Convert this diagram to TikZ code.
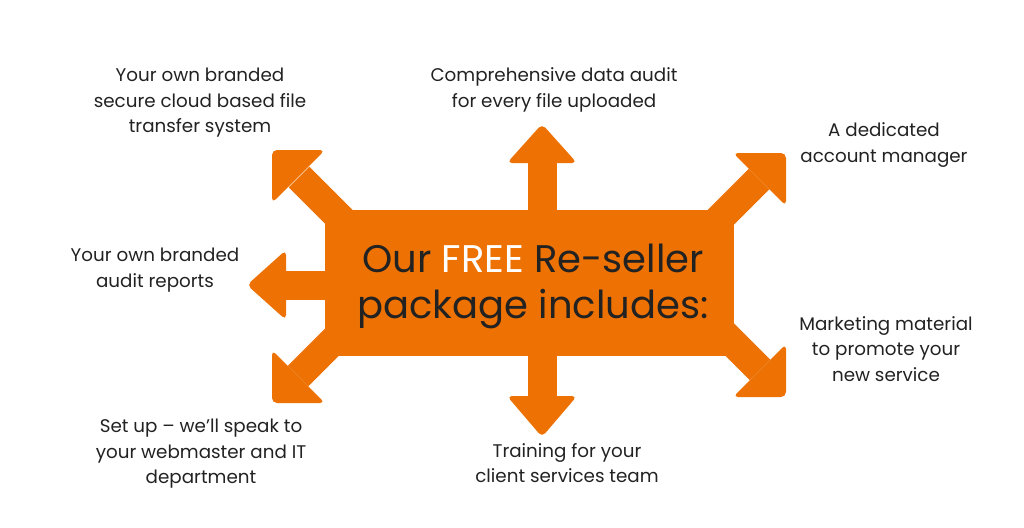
\documentclass[tikz,border=0pt]{standalone}
\usepackage{fontspec}
\setmainfont{Poppins}
\definecolor{brandorange}{HTML}{EE7203}
\definecolor{ink}{HTML}{222222}
\begin{document}
\begin{tikzpicture}[x=1pt,y=-1pt, shaft/.style={draw=brandorange,line width=29pt}, arrowhead/.style={fill=brandorange,rounded corners=5pt}, feature/.style={align=center,text=ink,inner sep=0pt,font=\fontsize{18.3}{25.5}\selectfont}]
\useasboundingbox (0,0) rectangle (1024,527);
% central block
\fill[brandorange] (325,210) rectangle (734,356);
% straight arrows
\draw[shaft] (542,160) -- (542,214);
\fill[arrowhead] (507,163) -- (542,124) -- (577,163) -- cycle;
\draw[shaft] (542,352) -- (542,399);
\fill[arrowhead] (507,396) -- (542,437) -- (577,396) -- cycle;
\draw[shaft] (283,285) -- (329,285);
\fill[arrowhead] (286,250) -- (247,285) -- (286,320) -- cycle;
% diagonal arrows
\draw[shaft] (299,177) -- (355,233);
\fill[arrowhead] (325,150) -- (272,150) -- (272,203) -- cycle;
\draw[shaft] (759,179) -- (705,233);
\fill[arrowhead] (733,153) -- (786,153) -- (786,206) -- cycle;
\draw[shaft] (298,376) -- (355,319);
\fill[arrowhead] (272,350) -- (272,403) -- (325,403) -- cycle;
\draw[shaft] (760,370) -- (705,315);
\fill[arrowhead] (786,344) -- (786,397) -- (733,397) -- cycle;
% texts
\node[align=center,text=ink,inner sep=0pt,font=\fontsize{38.5}{46}\selectfont] (package) at (533,286) {Our \textcolor{white}{FREE} Re-seller\\ package includes:};
\node[feature] (cloud) at (200,103) {Your own branded\\ secure cloud based file\\ transfer system};
\node[feature] (audit) at (554,90) {Comprehensive data audit\\ for every file uploaded};
\node[feature] (manager) at (884,145) {A dedicated\\ account manager};
\node[feature] (reports) at (155,270) {Your own branded\\ audit reports};
\node[feature] (marketing) at (886,349) {Marketing material\\ to promote your\\ new service};
\node[feature] (setup) at (201,454) {Set up – we’ll speak to\\ your webmaster and IT\\ department};
\node[feature] (training) at (567,463) {Training for your\\ client services team};
\end{tikzpicture}
\end{document}
